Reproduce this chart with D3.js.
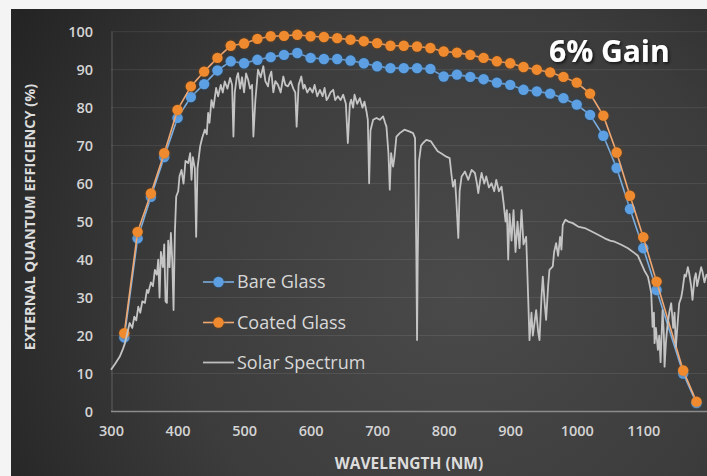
<!DOCTYPE html>
<html>
<head>
<meta charset="utf-8">
<script src="https://cdn.jsdelivr.net/npm/d3@7"></script>
<style>
  html, body { margin: 0; padding: 0; background: #f4f4f4; }
  svg { display: block; }
</style>
</head>
<body>
<svg id="chart" width="707" height="476"></svg>
<script>
// Wavelength grid (nm) of the EQE measurements
const wavelengths = [320,340,360,380,400,420,440,460,480,500,520,540,560,580,600,620,640,660,680,700,
  720,740,760,780,800,820,840,860,880,900,920,940,960,980,1000,1020,1040,1060,1080,1100,1120,1160,1180];

// External quantum efficiency (%) per wavelength
const bareGlass = [19.5,45.6,56.5,67.0,77.3,82.8,86.2,89.8,92.2,91.7,92.6,93.3,93.9,94.4,93.1,92.8,92.8,92.4,91.7,90.9,
  90.4,90.4,90.4,90.2,88.2,88.7,88.1,87.5,86.6,86.0,84.7,84.3,83.7,82.5,80.8,78.1,72.6,64.1,53.3,43.0,32.0,10.0,2.2];
const coatedGlass = [20.6,47.3,57.4,68.0,79.4,85.6,89.5,93.1,96.3,96.9,98.1,98.8,98.9,99.2,98.8,98.6,98.3,97.9,97.5,97.0,
  96.3,96.3,96.1,95.7,94.8,94.5,93.9,93.1,92.2,91.7,90.7,90.0,89.3,88.1,86.6,83.7,77.9,68.2,56.8,45.9,34.2,10.8,2.6];

// Solar spectrum, relative scale: [wavelength nm, value]
const solarSpectrum = [
  [300,11],[306,12.5],[313,14.4],[318,16.5],[321,18],[325,21],[328,23.3],[332,22],[335,25],[338,24],[341,27.6],
  [344,26],[347,29],[351,28.6],[354,32],[356,31.2],[360,34],[363,33],[366,37.3],[369,36],[371,40],[373,30],
  [375,42],[378,38],[380,44],[382,29],[384,28.6],[386,45],[388,38],[390,47],[392,40],[394,26.7],[396,47],
  [398,56.6],[401,58],[403,62],[406,63.6],[409,60],[412,66],[416,65.4],[419,68],[421,61],[423,67],[426,64],
  [428,46],[430,64],[434,69.8],[437,72],[441,74.2],[444,73],[446,78.6],[448,76],[451,82],[454,80],[458,85.2],
  [461,83],[465,86],[468,84],[471,86.9],[475,85],[479,87.8],[482,86],[484,72.4],[486,84],[489,88],[491,89.1],
  [494,85],[497,88],[500,84],[503,89],[506,87.4],[509,85],[512,86],[514,72.4],[517,82],[521,90],[525,88],
  [529,90.9],[532,87],[536,85.6],[538,88],[541,89.5],[544,84],[547,87],[551,86],[555,84],[559,88.2],[562,86],
  [566,85.6],[570,87],[574,85],[577,84],[579,75],[582,86],[586,88.2],[589,85],[591,86],[595,84],[599,85.2],
  [603,84],[606,86],[610,83],[614,84.7],[618,83],[621,85.2],[624,82],[626,82.5],[630,84],[634,84.7],[637,82],
  [641,83],[645,82],[649,83.4],[653,81],[656,70.7],[659,81],[661,82.1],[664,80],[666,83.4],[670,81],[674,82.5],
  [678,80],[681,81.6],[684,79],[686,76.8],[688,60.1],[690,74],[694,76.8],[699,77.3],[704,76.8],[709,77.7],
  [712,76],[714,75],[717,68],[719,58.4],[721,68],[724,64.5],[726,67],[729,72.4],[734,73.3],[741,74.2],
  [749,73.7],[754,73.3],[757,72],[759,40],[760,18.8],[761,40],[763,66],[766,70],[769,70.7],[774,71.5],
  [781,71.1],[786,69.8],[791,68.5],[796,68],[804,67.1],[809,66.7],[812,62],[814,59.2],[817,61],[819,55.7],
  [822,45.7],[824,58],[827,61.9],[832,63.2],[837,61],[842,63.6],[847,62.8],[850,60],[852,57.5],[855,61],
  [857,62.8],[861,60],[864,61.9],[868,59],[872,60.1],[876,58],[879,61],[883,58],[887,59.2],[890,55],[893,50],
  [895,53],[897,40],[899,52],[902,45],[905,53],[908,42],[911,50],[914,43],[917,53],[920,44],[924,46],[927,30],
  [929,18.8],[932,26],[934,20],[937,24],[939,26.7],[942,21],[944,18.8],[947,30],[949,35.5],[952,28],[954,24.1],
  [957,33],[959,37.3],[964,38.2],[966,42],[969,44.3],[972,41],[975,46],[977,42.6],[979,49.1],[983,50.5],
  [987,50],[994,49.6],[1002,48.7],[1012,48.3],[1027,47],[1042,45.6],[1050,45],[1057,44.7],[1067,43.9],
  [1077,43],[1087,41.7],[1092,41],[1097,39],[1102,37],[1107,35.5],[1110,33],[1112,31.1],[1114,22.3],[1116,26],
  [1117,18],[1119,22],[1122,16.2],[1124,20],[1126,13],[1129,26.7],[1131,20],[1132,11.8],[1134,18],[1136,22],
  [1139,26],[1142,28.5],[1145,22],[1147,26],[1149,17],[1152,24],[1154,28.5],[1157,30],[1159,32],[1162,36],
  [1164,35.5],[1167,38],[1169,36.4],[1172,33],[1174,29.4],[1177,35],[1179,36.4],[1181,33],[1184,35.5],
  [1187,38],[1189,36.8],[1192,34],[1195,36],[1200,35]
];

const xTicks = [300,400,500,600,700,800,900,1000,1100];
const yTicks = [0,10,20,30,40,50,60,70,80,90,100];

const legendItems = [
  { name: "Bare Glass", kind: "dot", color: "#5b9fe2", line: "#7aaee0" },
  { name: "Coated Glass", kind: "dot", color: "#f08a2e", line: "#f0a872" },
  { name: "Solar Spectrum", kind: "line", color: "#bdbdbd" }
];

const svg = d3.select("#chart");
const W = 707, H = 476;
const font = "'Open Sans', 'DejaVu Sans', sans-serif";

// Backdrop
const defs = svg.append("defs");
const grad = defs.append("radialGradient").attr("id", "bg")
  .attr("gradientUnits", "userSpaceOnUse")
  .attr("cx", 460).attr("cy", 290).attr("r", 520);
grad.append("stop").attr("offset", "0%").attr("stop-color", "#4a4a4a");
grad.append("stop").attr("offset", "55%").attr("stop-color", "#3c3c3c");
grad.append("stop").attr("offset", "100%").attr("stop-color", "#242424");

function glow(id, color, opacity) {
  const f = defs.append("filter").attr("id", id)
    .attr("x", "-60%").attr("y", "-60%").attr("width", "220%").attr("height", "220%");
  f.append("feGaussianBlur").attr("in", "SourceAlpha").attr("stdDeviation", 1.8).attr("result", "b");
  f.append("feFlood").attr("flood-color", color).attr("flood-opacity", opacity);
  f.append("feComposite").attr("in2", "b").attr("operator", "in").attr("result", "g");
  const m = f.append("feMerge");
  m.append("feMergeNode").attr("in", "g");
  m.append("feMergeNode").attr("in", "SourceGraphic");
}
glow("glowBlue", "#1d4f80", 0.8);
glow("glowOrange", "#8a4512", 0.7);

const textShadow = defs.append("filter").attr("id", "textShadow")
  .attr("x", "-20%").attr("y", "-40%").attr("width", "140%").attr("height", "180%");
textShadow.append("feDropShadow").attr("dx", 1.5).attr("dy", 1.5).attr("stdDeviation", 1.5)
  .attr("flood-color", "#000").attr("flood-opacity", 0.7);

svg.append("rect").attr("width", W).attr("height", H).attr("fill", "#f4f4f4");
svg.append("rect").attr("x", 11).attr("y", 9).attr("width", W - 11).attr("height", H - 9).attr("fill", "url(#bg)");

// Scales
const x = d3.scaleLinear().domain([300, 1200]).range([111, 709.8]);
const y = d3.scaleLinear().domain([0, 100]).range([411.5, 31.7]);

// Horizontal gridlines
svg.append("g").selectAll("line").data(yTicks.filter(d => d > 0)).join("line")
  .attr("x1", x(300)).attr("x2", W)
  .attr("y1", d => y(d)).attr("y2", d => y(d))
  .attr("stroke", "#ffffff").attr("stroke-opacity", 0.09).attr("stroke-width", 1);

// Left frame line and baseline
svg.append("line").attr("x1", x(300) + 1).attr("x2", x(300) + 1).attr("y1", y(100)).attr("y2", y(0))
  .attr("stroke", "#ffffff").attr("stroke-opacity", 0.18).attr("stroke-width", 1.2);
svg.append("line").attr("x1", x(300)).attr("x2", W).attr("y1", y(0)).attr("y2", y(0))
  .attr("stroke", "#8c8c8c").attr("stroke-width", 1.5);

// Axes (tick labels only)
const yAxis = d3.axisLeft(y).tickValues(yTicks).tickSize(0).tickPadding(0).tickFormat(d3.format("d"));
const gy = svg.append("g").attr("transform", "translate(93,0)").call(yAxis);
gy.select(".domain").remove();
gy.selectAll("text").attr("fill", "#d4d4d4").attr("font-family", font)
  .attr("font-size", 14.5).attr("font-weight", 600).attr("dy", "0.36em");

const xAxis = d3.axisBottom(x).tickValues(xTicks).tickSize(0).tickPadding(0).tickFormat(d3.format("d"));
const gx = svg.append("g").attr("transform", "translate(0,426)").call(xAxis);
gx.select(".domain").remove();
gx.selectAll("text").attr("fill", "#d4d4d4").attr("font-family", font)
  .attr("font-size", 14.5).attr("font-weight", 600).attr("dy", "0.71em");

// Axis titles
svg.append("text").attr("transform", "translate(35,217) rotate(-90)")
  .attr("text-anchor", "middle").attr("fill", "#dcdcdc")
  .attr("font-family", font).attr("font-size", 14.5).attr("font-weight", 700)
  .text("EXTERNAL QUANTUM EFFICIENCY (%)");
svg.append("text").attr("x", 409).attr("y", 469)
  .attr("text-anchor", "middle").attr("fill", "#dcdcdc")
  .attr("font-family", font).attr("font-size", 15.5).attr("font-weight", 700)
  .text("WAVELENGTH (NM)");

// EQE series
const series = [
  { values: bareGlass, style: legendItems[0], filter: "url(#glowBlue)" },
  { values: coatedGlass, style: legendItems[1], filter: "url(#glowOrange)" }
];
const line = d3.line().x(d => x(d[0])).y(d => y(d[1]));
series.forEach(s => {
  const pts = wavelengths.map((w, i) => [w, s.values[i]]);
  const g = svg.append("g");
  g.append("path").datum(pts).attr("d", line)
    .attr("fill", "none").attr("stroke", s.style.line).attr("stroke-width", 1.6);
  g.append("g").attr("filter", s.filter).selectAll("circle").data(pts).join("circle")
    .attr("cx", d => x(d[0])).attr("cy", d => y(d[1])).attr("r", 5.2)
    .attr("fill", s.style.color);
});

// Solar spectrum
svg.append("path").datum(solarSpectrum).attr("d", line)
  .attr("fill", "none").attr("stroke", "#c4c4c4").attr("stroke-width", 1.8)
  .attr("stroke-linejoin", "round");

// Legend
const legendY = [282, 322.5, 362.5];
const lg = svg.append("g");
legendItems.forEach((it, i) => {
  const gy0 = legendY[i];
  lg.append("line").attr("x1", 203).attr("x2", 234).attr("y1", gy0).attr("y2", gy0)
    .attr("stroke", it.kind === "dot" ? it.line : it.color).attr("stroke-width", it.kind === "dot" ? 1.6 : 1.8);
  if (it.kind === "dot") {
    lg.append("circle").attr("cx", 218.5).attr("cy", gy0).attr("r", 5.2)
      .attr("fill", it.color).attr("filter", i === 0 ? "url(#glowBlue)" : "url(#glowOrange)");
  }
  lg.append("text").attr("x", 237).attr("y", gy0).attr("dy", "0.36em")
    .attr("fill", "#d8d8d8").attr("font-family", font).attr("font-size", 18)
    .text(it.name);
});

// Annotation
svg.append("text").attr("x", 549).attr("y", 62)
  .attr("fill", "#ffffff").attr("font-family", font).attr("font-size", 30).attr("font-weight", 700)
  .attr("filter", "url(#textShadow)")
  .text("6% Gain");
</script>
</body>
</html>
